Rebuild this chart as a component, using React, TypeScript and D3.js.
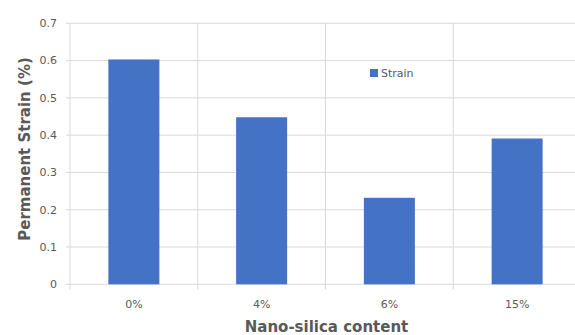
import React from "react";
import * as d3 from "d3";

const categories = ["0%", "4%", "6%", "15%"];
const strain = [0.603, 0.448, 0.232, 0.391];
const yTicks = [0, 0.1, 0.2, 0.3, 0.4, 0.5, 0.6, 0.7];

export default function App() {
  const W = 575, H = 335;
  const left = 70, right = 581, top = 23.3, bottom = 284.3;
  const x = d3.scaleBand<string>().domain(categories).range([left, right]).paddingInner(0).paddingOuter(0);
  const y = d3.scaleLinear().domain([0, 0.7]).range([bottom, top]);
  const bw = 51;
  const grid = "#d9d9d9";
  const txt = "#595959";
  const font = "'DejaVu Sans', Verdana, sans-serif";
  const bounds = categories.map((c) => x(c)!).concat([right]);
  return (
    <svg width={W} height={H} style={{ position: "absolute", left: 0, top: 0 }}>
      <rect width={W} height={H} fill="#fff" />
      {yTicks.map((t) => (
        <g key={t}>
          <line x1={left - 4} x2={right} y1={y(t)} y2={y(t)} stroke={grid} strokeWidth={1} />
          <text x={57} y={y(t)} dy="0.35em" textAnchor="end" fontSize={11} fill={txt} fontFamily={font}>
            {t === 0 ? "0" : d3.format(".1f")(t)}
          </text>
        </g>
      ))}
      {bounds.map((b, i) => (
        <line key={i} x1={b} x2={b} y1={top} y2={bottom + 5} stroke={grid} strokeWidth={1} />
      ))}
      {categories.map((c, i) => (
        <g key={c}>
          <rect
            x={x(c)! + x.bandwidth() / 2 - bw / 2}
            y={y(strain[i])}
            width={bw}
            height={y(0) - y(strain[i])}
            fill="#4472C4"
          />
          <text x={x(c)! + x.bandwidth() / 2} y={304} dy="0.35em" textAnchor="middle" fontSize={11} fill={txt} fontFamily={font}>
            {c}
          </text>
        </g>
      ))}
      <rect x={370} y={69} width={8} height={8} fill="#4472C4" />
      <text x={381} y={73} dy="0.35em" fontSize={11} fill={txt} fontFamily={font}>Strain</text>
      <text x={326.5} y={332} textAnchor="middle" fontSize={15} fontWeight="bold" fill={txt} fontFamily={font}>
        Nano-silica content
      </text>
      <text
        transform={`translate(29.5,149) rotate(-90)`}
        textAnchor="middle"
        fontSize={15}
        fontWeight="bold"
        fill={txt}
        fontFamily={font}
      >
        Permanent Strain (%)
      </text>
    </svg>
  );
}
